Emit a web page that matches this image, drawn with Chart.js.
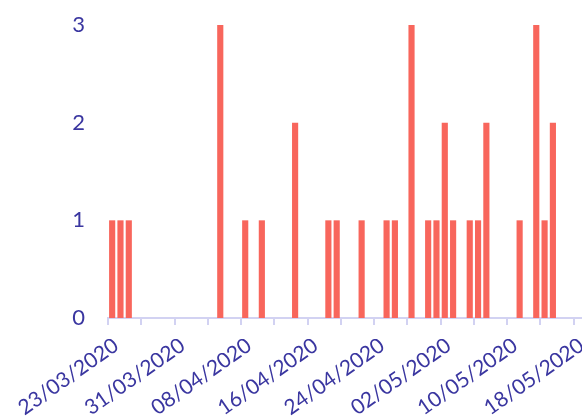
<!DOCTYPE html>
<html>
<head>
<meta charset="utf-8">
<script src="https://cdn.jsdelivr.net/npm/chart.js@4"></script>
<style>
html,body{margin:0;padding:0;background:#fff;}
#wrap{width:582px;height:418px;position:relative;}
</style>
</head>
<body>
<div id="wrap"><canvas id="c" width="582" height="418"></canvas></div>
<script>
// Dates (day index from 23/03/2020) with their counts
const startDate = [2020, 2, 23];
const dayIndex = [0, 1, 2, 13, 16, 18, 22, 26, 27, 30, 33, 34, 36, 38, 39, 40, 41, 43, 44, 45, 49, 51, 52, 53];
const counts   = [1, 1, 1, 3,  1,  1,  2,  1,  1,  1,  1,  1,  3,  1,  1,  2,  1,  1,  1,  2,  1,  3,  1,  2];
const xTickDays = [0, 4, 8, 12, 16, 20, 24, 28, 32, 36, 40, 44, 48, 52, 56];
const xLabelDays = [0, 8, 16, 24, 32, 40, 48, 56];
const yTicks = [0, 1, 2, 3];

function fmt(d) {
  const dt = new Date(startDate[0], startDate[1], startDate[2] + d);
  const dd = String(dt.getDate()).padStart(2, '0');
  const mm = String(dt.getMonth() + 1).padStart(2, '0');
  return dd + '/' + mm + '/' + dt.getFullYear();
}

const textColor = '#3a36a0';
const axisColor = '#d2d2f2';

new Chart(document.getElementById('c'), {
  type: 'bar',
  data: {
    datasets: [{
      data: dayIndex.map((d, i) => ({ x: d + 0.5, y: counts[i] })),
      backgroundColor: '#f8665c',
      borderWidth: 0,
      barPercentage: 0.74,
      categoryPercentage: 1
    }]
  },
  options: {
    responsive: false,
    animation: false,
    layout: { padding: { left: 0, right: 0, top: 25, bottom: 0 } },
    plugins: { legend: { display: false }, tooltip: { enabled: false } },
    scales: {
      x: {
        type: 'linear',
        min: 0,
        max: 57,
        offset: false,
        grid: { offset: false, drawOnChartArea: false, drawTicks: true, tickLength: 7, color: axisColor, lineWidth: 2 },
        border: { display: true, color: axisColor, width: 2 },
        afterBuildTicks: (scale) => { scale.ticks = xTickDays.map(v => ({ value: v })); },
        ticks: {
          autoSkip: false,
          minRotation: 35,
          maxRotation: 35,
          padding: 8,
          labelOffset: 8,
          color: textColor,
          font: { family: 'Lato', size: 21 },
          callback: (v) => xLabelDays.includes(v) ? fmt(v) : ''
        },
        afterFit: (scale) => { scale.height = 100; scale.paddingRight = 0; scale.paddingLeft = 0; scale.paddingTop = 0; scale.paddingBottom = 0; }
      },
      y: {
        min: 0,
        max: 3,
        grid: { display: false, drawTicks: false },
        border: { display: false },
        afterBuildTicks: (scale) => { scale.ticks = yTicks.map(v => ({ value: v })); },
        ticks: {
          padding: 23,
          color: textColor,
          font: { family: 'Lato', size: 22 }
        },
        afterFit: (scale) => { scale.width = 108; scale.paddingTop = 0; scale.paddingBottom = 0; }
      }
    }
  }
});
</script>
</body>
</html>
